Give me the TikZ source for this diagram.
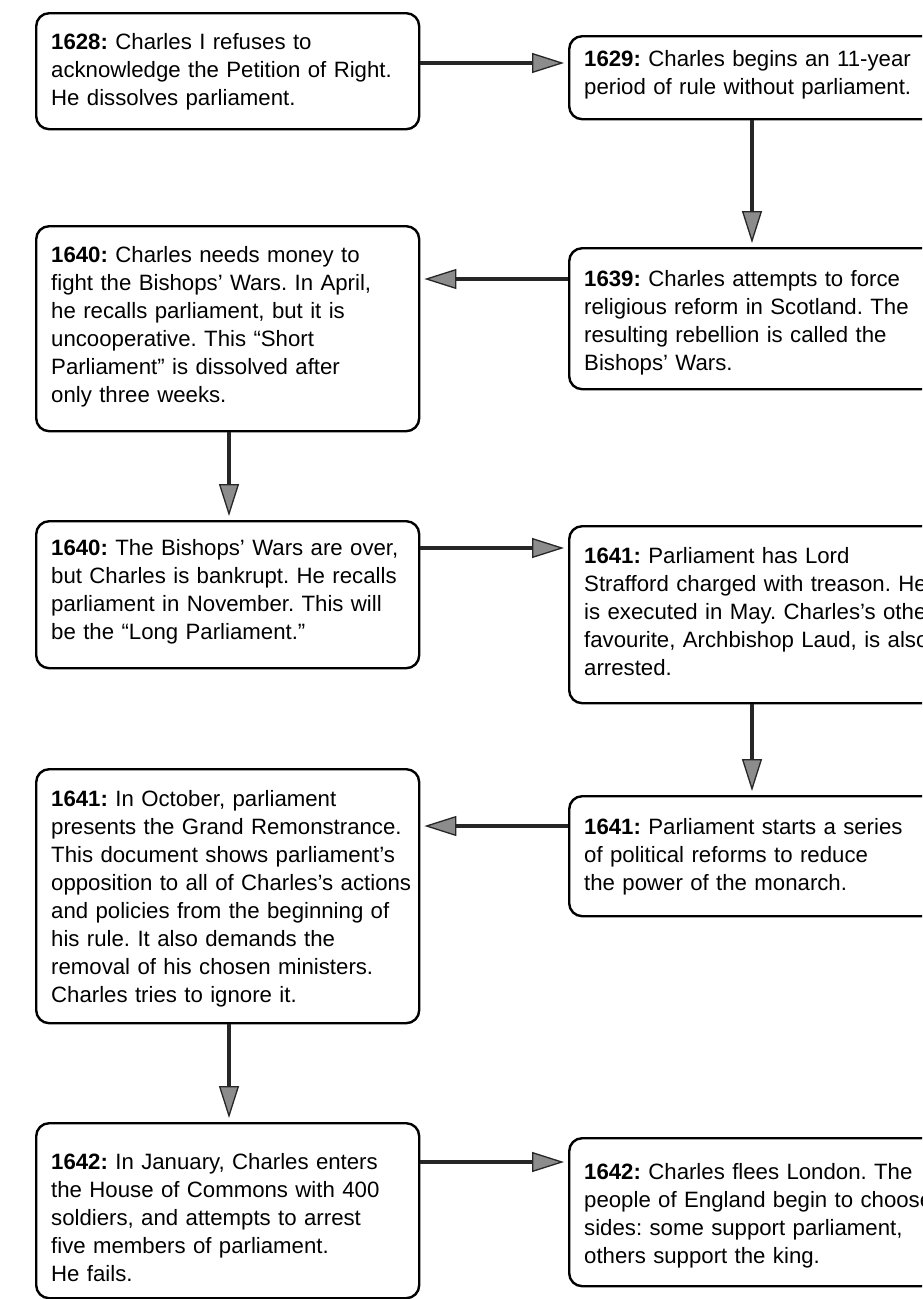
\documentclass[tikz,border=0pt]{standalone}
\usepackage{fontspec}
\setmainfont{Liberation Sans}
\usetikzlibrary{arrows.meta,calc}
\newcommand\boxlines[1]{\begin{tabular}[t]{@{}l@{}}#1\end{tabular}}
\tikzset{
  box/.style={draw=black, line width=2.4pt, rounded corners=13pt, fill=white, anchor=north west,
    align=left, inner xsep=15pt, inner ysep=0pt, font=\fontsize{22.2}{28}\selectfont\frenchspacing},
  lbox/.style={box, text width=353pt, minimum width=383pt},
  rbox/.style={box, text width=370pt, minimum width=400pt},
  arr/.style={draw=black!85, line width=4pt, shorten >=4pt,
    -{Triangle[length=32pt,width=20pt,fill=black!45,line width=1.3pt]}},
}
\begin{document}
\begin{tikzpicture}[x=1pt,y=-1pt]
\path[use as bounding box, clip] (0,0) rectangle (922,1299);
\fill[white] (0,0) rectangle (922,1299);

\node[lbox, text height=36pt, text depth=80pt] (b1) at (35,12) {\boxlines{\textbf{1628:} Charles I refuses to\\acknowledge the Petition of Right.\\He dissolves parliament.}};
\node[rbox, text height=30pt, text depth=53pt] (b2) at (568,35) {\boxlines{\textbf{1629:} Charles begins an 11-year\\period of rule without parliament.}};
\node[rbox, text height=38pt, text depth=103pt] (b3) at (568,247) {\boxlines{\textbf{1639:} Charles attempts to force\\religious reform in Scotland. The\\resulting rebellion is called the\\Bishops’ Wars.}};
\node[lbox, text height=36pt, text depth=169pt] (b4) at (35,225) {\boxlines{\textbf{1640:} Charles needs money to\\fight the Bishops’ Wars. In April,\\he recalls parliament, but it is\\uncooperative. This “Short\\Parliament” is dissolved after\\only three weeks.}};
\node[lbox, text height=34pt, text depth=113pt] (b5) at (35,520) {\boxlines{\textbf{1640:} The Bishops’ Wars are over,\\but Charles is bankrupt. He recalls\\parliament in November. This will\\be the “Long Parliament.”}};
\node[rbox, text height=37pt, text depth=140pt] (b6) at (568,525) {\boxlines{\textbf{1641:} Parliament has Lord\\Strafford charged with treason. He\\is executed in May. Charles’s other\\favourite, Archbishop Laud, is also\\arrested.}};
\node[rbox, text height=38pt, text depth=82pt] (b7) at (568,795) {\boxlines{\textbf{1641:} Parliament starts a series\\of political reforms to reduce\\the power of the monarch.}};
\node[lbox, text height=37pt, text depth=217pt] (b8) at (35,768) {\boxlines{\textbf{1641:} In October, parliament\\presents the Grand Remonstrance.\\This document shows parliament’s\\opposition to all of Charles’s actions\\and policies from the beginning of\\his rule. It also demands the\\removal of his chosen ministers.\\Charles tries to ignore it.}};
\node[lbox, text height=46pt, text depth=129pt] (b9) at (35,1122) {\boxlines{\textbf{1642:} In January, Charles enters\\the House of Commons with 400\\soldiers, and attempts to arrest\\five members of parliament.\\He fails.}};
\node[rbox, text height=41pt, text depth=107pt] (b10) at (568,1137) {\boxlines{\textbf{1642:} Charles flees London. The\\people of England begin to choose\\sides: some support parliament,\\others support the king.}};

\coordinate (a12) at (0,63);
\coordinate (a23) at (752,0);
\coordinate (a34) at (0,279);
\coordinate (a45) at (229,0);
\coordinate (a56) at (0,548);
\coordinate (a67) at (752,0);
\coordinate (a78) at (0,826);
\coordinate (a89) at (229,0);
\coordinate (a910) at (0,1162);

\draw[arr] (b1.east |- a12) -- (b2.west |- a12);
\draw[arr] (b2.south -| a23) -- (b3.north -| a23);
\draw[arr] (b3.west |- a34) -- (b4.east |- a34);
\draw[arr] (b4.south -| a45) -- (b5.north -| a45);
\draw[arr] (b5.east |- a56) -- (b6.west |- a56);
\draw[arr] (b6.south -| a67) -- (b7.north -| a67);
\draw[arr] (b7.west |- a78) -- (b8.east |- a78);
\draw[arr] (b8.south -| a89) -- (b9.north -| a89);
\draw[arr] (b9.east |- a910) -- (b10.west |- a910);
\end{tikzpicture}
\end{document}
